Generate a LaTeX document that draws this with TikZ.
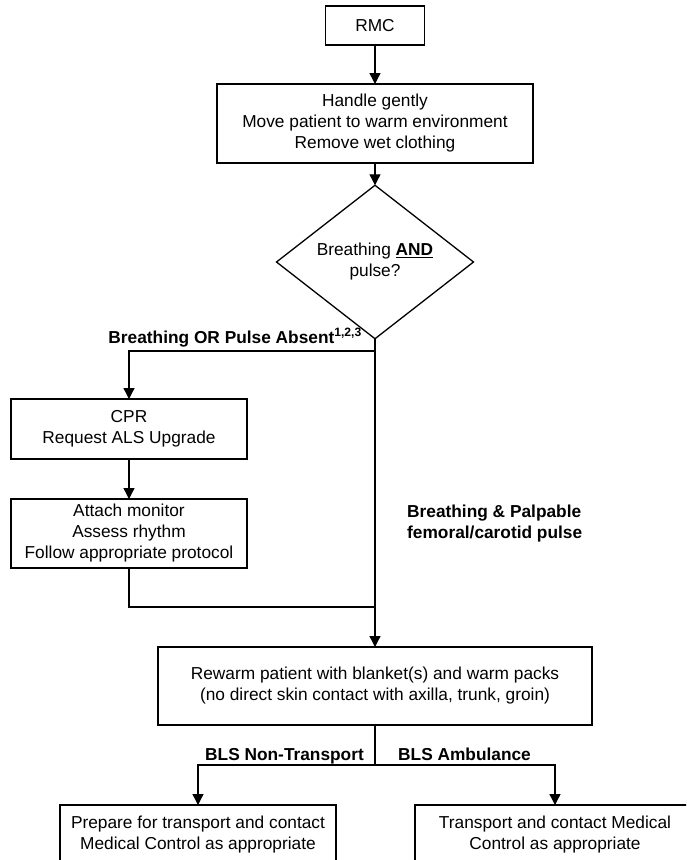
\documentclass[tikz,border=0pt]{standalone}
\usepackage{fontspec}
\setmainfont{Liberation Sans}
\usetikzlibrary{shapes.geometric,arrows.meta}
\tikzset{box/.style={draw=black, line width=1.3pt, align=center, inner sep=0pt, outer sep=0pt},
%decision diamond of the chart
decision/.style={diamond, draw=black, line width=1.3pt, align=center, inner sep=0pt, outer sep=0pt},
arr/.style={line width=1.3pt, -{Triangle[length=11pt,width=11pt]}},
lbl/.style={font=\fontsize{17.3pt}{21pt}\selectfont\bfseries, inner sep=0pt, align=left}}

\begin{document}
\begin{tikzpicture}[x=1pt,y=-1pt,font=\fontsize{17.3pt}{21pt}\selectfont]

    \useasboundingbox (0,0) rectangle (686,860);
    \clip (0,0) rectangle (686,860);

    \node[box, minimum width=99pt, minimum height=39pt] (rmc) at (375,25.5) {RMC};
    \node[box, minimum width=316pt, minimum height=79pt] (handle) at (375,123.5)
        {Handle gently\\Move patient to warm environment\\Remove wet clothing};
    \node[decision, minimum width=197pt, minimum height=118pt] (check) at (375,262)
        {Breathing \underline{\textbf{AND}}\\pulse?};
    \node[box, minimum width=236pt, minimum height=60pt] (cpr) at (129,429)
        {CPR\\Request ALS Upgrade};
    \node[box, minimum width=236pt, minimum height=69pt] (monitor) at (129,533.5)
        {Attach monitor\\Assess rhythm\\Follow appropriate protocol};
    \node[box, minimum width=434pt, minimum height=78pt] (rewarm) at (375,686)
        {Rewarm patient with blanket(s) and warm packs\\(no direct skin contact with axilla, trunk, groin)};
    \node[box, minimum width=276pt, minimum height=60pt] (prep) at (198,835)
        {Prepare for transport and contact\\Medical Control as appropriate};
    \node[box, minimum width=280pt, minimum height=60pt] (transport) at (555,835)
        {Transport and contact Medical\\Control as appropriate};

    \coordinate (split) at (375,351);
    \coordinate (left) at (129,351);
    \coordinate (back) at (129,607);
    \coordinate (join) at (375,607);
    \coordinate (fork) at (375,765);
    \coordinate (forkl) at (198,765);
    \coordinate (forkr) at (555,765);

    \foreach \a/\b in {rmc/handle, handle/check, cpr/monitor}
    \draw[arr] (\a) -- (\b);

    \draw[arr] (check.south) -- (rewarm.north);
    \draw[arr] (split) -- (left) -- (cpr.north);
    \draw[line width=1.3pt] (monitor.south) -- (back) -- (join);
    \draw[line width=1.3pt] (rewarm.south) -- (fork);
    \draw[arr] (fork) -- (forkl) -- (prep.north);
    \draw[arr] (fork) -- (forkr) -- (transport.north);

    \node[lbl, anchor=base east] (absent) at (362,343)
        {Breathing OR Pulse Absent\textsuperscript{1,2,3}};
    \node[lbl, anchor=west] (palpable) at (407,524)
        {Breathing \& Palpable\\femoral/carotid pulse};
    \node[lbl, anchor=base east] (nontransport) at (364,760) {BLS Non-Transport};
    \node[lbl, anchor=base west] (ambulance) at (398,760) {BLS Ambulance};

  \end{tikzpicture}
\end{document}
